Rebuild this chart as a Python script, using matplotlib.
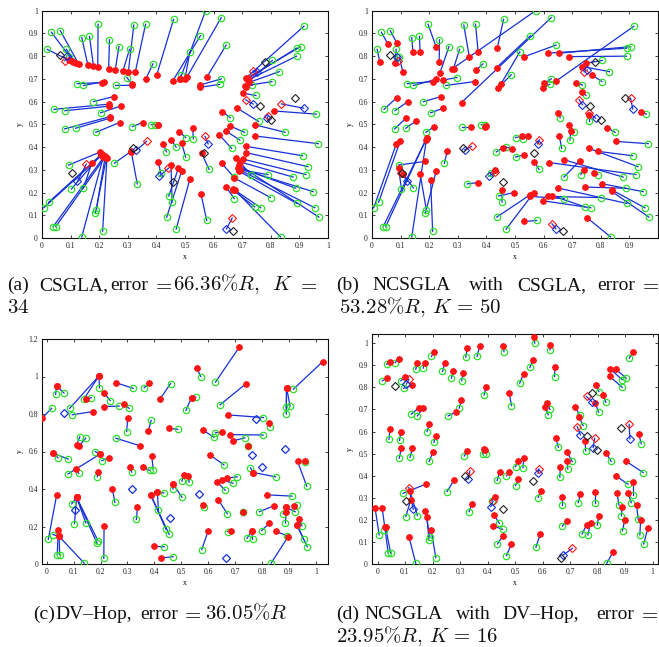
import matplotlib
matplotlib.use("Agg")
import matplotlib.pyplot as plt
import numpy as np

plt.rcParams['font.family'] = ['Liberation Serif', 'DejaVu Serif']
plt.rcParams['mathtext.fontset'] = 'cm'

# ---------------- data ----------------
true_x = [0.572, 0.627, 0.460, 0.916, 0.196, 0.321, 0.362, 0.064, 0.033, 0.139,
          0.166, 0.236, 0.554, 0.644, 0.269, 0.306, 0.018, 0.085, 0.095, 0.517,
          0.890, 0.904, 0.890, 0.805, 0.830, 0.804, 0.748, 0.736, 0.627, 0.621,
          0.487, 0.388, 0.297, 0.123, 0.145, 0.257, 0.180, 0.205, 0.042, 0.080,
          0.079, 0.118, 0.188, 0.316, 0.382, 0.396, 0.502, 0.529, 0.435, 0.469,
          0.502, 0.663, 0.692, 0.708, 0.658, 0.671, 0.584, 0.730, 0.790, 0.757,
          0.850, 0.966, 0.959, 0.911, 0.930, 0.923, 0.878, 0.887, 0.891, 0.948,
          0.954, 0.968, 0.799, 0.765, 0.744, 0.672, 0.576, 0.469, 0.436, 0.443,
          0.455, 0.415, 0.333, 0.253, 0.093, 0.103, 0.145, 0.190, 0.187, 0.212,
          0.139, 0.006, 0.039, 0.048, 0.023, 0.834]
true_y = [1.000, 0.970, 0.962, 0.932, 0.940, 0.937, 0.940, 0.912, 0.905, 0.882,
          0.887, 0.872, 0.890, 0.849, 0.842, 0.830, 0.830, 0.830, 0.796, 0.819,
          0.835, 0.842, 0.800, 0.781, 0.732, 0.688, 0.627, 0.673, 0.700, 0.676,
          0.718, 0.766, 0.706, 0.679, 0.671, 0.671, 0.600, 0.551, 0.566, 0.560,
          0.480, 0.483, 0.465, 0.490, 0.499, 0.499, 0.442, 0.437, 0.379, 0.400,
          0.356, 0.394, 0.431, 0.465, 0.529, 0.268, 0.302, 0.279, 0.279, 0.513,
          0.465, 0.415, 0.545, 0.362, 0.314, 0.279, 0.268, 0.219, 0.152, 0.204,
          0.133, 0.092, 0.178, 0.133, 0.137, 0.173, 0.077, 0.039, 0.092, 0.185,
          0.158, 0.287, 0.238, 0.329, 0.321, 0.216, 0.220, 0.125, 0.110, 0.030,
          0.005, 0.133, 0.050, 0.050, 0.157, 0.005]

# (a) CSGLA estimates
est_a_x = [0.483, 0.506, 0.401, 0.715, 0.195, 0.302, 0.326, 0.128, 0.110, 0.160,
           0.180, 0.233, 0.457, 0.576, 0.256, 0.283, 0.093, 0.118, 0.105, 0.500,
           0.718, 0.720, 0.720, 0.724, 0.725, 0.710, 0.703, 0.712, 0.552, 0.552,
           0.483, 0.363, 0.314, 0.209, 0.217, 0.316, 0.250, 0.276, 0.236, 0.236,
           0.238, 0.238, 0.271, 0.352, 0.407, 0.407, 0.480, 0.527, 0.424, 0.451,
           0.488, 0.620, 0.645, 0.657, 0.631, 0.628, 0.558, 0.680, 0.692, 0.683,
           0.744, 0.744, 0.810, 0.715, 0.713, 0.703, 0.692, 0.690, 0.690, 0.686,
           0.690, 0.690, 0.673, 0.669, 0.669, 0.645, 0.556, 0.517, 0.488, 0.477,
           0.451, 0.407, 0.312, 0.310, 0.203, 0.209, 0.174, 0.221, 0.225, 0.227,
           0.215, 0.209, 0.215, 0.220, 0.205, 0.675]
est_a_y = [0.700, 0.707, 0.717, 0.706, 0.751, 0.732, 0.729, 0.766, 0.776, 0.762,
           0.757, 0.742, 0.691, 0.707, 0.739, 0.735, 0.783, 0.770, 0.780, 0.700,
           0.700, 0.705, 0.695, 0.690, 0.685, 0.670, 0.637, 0.665, 0.673, 0.663,
           0.700, 0.700, 0.678, 0.684, 0.688, 0.672, 0.622, 0.581, 0.589, 0.580,
           0.534, 0.527, 0.508, 0.508, 0.498, 0.495, 0.468, 0.486, 0.414, 0.432,
           0.420, 0.454, 0.469, 0.493, 0.556, 0.329, 0.373, 0.351, 0.300, 0.571,
           0.498, 0.449, 0.559, 0.403, 0.376, 0.347, 0.335, 0.310, 0.293, 0.307,
           0.300, 0.320, 0.264, 0.215, 0.210, 0.223, 0.193, 0.259, 0.293, 0.307,
           0.320, 0.334, 0.381, 0.380, 0.378, 0.370, 0.330, 0.359, 0.352, 0.350,
           0.360, 0.365, 0.355, 0.355, 0.365, 0.210]

# (b) NCSGLA with CSGLA estimates
est_b_x = [0.278, 0.313, 0.438, 0.643, 0.224, 0.340, 0.371, 0.087, 0.056, 0.143,
           0.168, 0.235, 0.436, 0.533, 0.238, 0.285, 0.027, 0.079, 0.108, 0.450,
           0.614, 0.655, 0.689, 0.748, 0.736, 0.770, 0.736, 0.713, 0.603, 0.597,
           0.440, 0.365, 0.249, 0.212, 0.224, 0.359, 0.241, 0.249, 0.087, 0.125,
           0.119, 0.154, 0.218, 0.345, 0.400, 0.395, 0.525, 0.545, 0.458, 0.490,
           0.530, 0.655, 0.695, 0.689, 0.652, 0.727, 0.568, 0.740, 0.776, 0.757,
           0.823, 0.852, 0.942, 0.791, 0.757, 0.620, 0.672, 0.745, 0.650, 0.803,
           0.838, 0.838, 0.614, 0.597, 0.631, 0.553, 0.533, 0.565, 0.553, 0.496,
           0.454, 0.431, 0.371, 0.263, 0.185, 0.093, 0.108, 0.168, 0.224, 0.205,
           0.191, 0.085, 0.188, 0.191, 0.098, 0.753]
est_b_y = [0.742, 0.596, 0.835, 0.690, 0.842, 0.798, 0.820, 0.857, 0.852, 0.820,
           0.820, 0.776, 0.750, 0.798, 0.728, 0.745, 0.776, 0.770, 0.732, 0.676,
           0.813, 0.813, 0.798, 0.769, 0.754, 0.717, 0.644, 0.681, 0.681, 0.660,
           0.660, 0.739, 0.695, 0.688, 0.698, 0.688, 0.622, 0.571, 0.618, 0.600,
           0.527, 0.515, 0.490, 0.490, 0.493, 0.490, 0.447, 0.450, 0.398, 0.392,
           0.366, 0.450, 0.469, 0.498, 0.552, 0.340, 0.334, 0.300, 0.288, 0.542,
           0.486, 0.425, 0.556, 0.381, 0.395, 0.332, 0.344, 0.224, 0.220, 0.239,
           0.212, 0.205, 0.183, 0.164, 0.186, 0.183, 0.073, 0.198, 0.190, 0.200,
           0.212, 0.300, 0.244, 0.381, 0.337, 0.307, 0.283, 0.283, 0.293, 0.256,
           0.439, 0.414, 0.430, 0.440, 0.425, 0.088]

# (c) DV-Hop estimates
est_c_x = [0.557, 0.715, 0.421, 1.025, 0.194, 0.257, 0.380, 0.037, 0.037, 0.194,
           0.146, 0.213, 0.538, 0.739, 0.211, 0.287, -0.016, 0.194, 0.173, 0.538,
           0.891, 0.891, 0.891, 0.675, 0.827, 0.680, 0.746, 0.693, 0.653, 0.580,
           0.454, 0.377, 0.301, 0.111, 0.120, 0.347, 0.198, 0.233, 0.022, 0.022,
           0.198, 0.109, 0.192, 0.309, 0.359, 0.390, 0.511, 0.526, 0.411, 0.470,
           0.470, 0.631, 0.650, 0.668, 0.606, 0.637, 0.582, 0.728, 0.845, 0.767,
           0.767, 0.932, 0.959, 0.817, 0.920, 0.889, 0.889, 0.889, 0.851, 0.938,
           0.929, 0.929, 0.827, 0.761, 0.761, 0.684, 0.600, 0.424, 0.399, 0.386,
           0.386, 0.411, 0.337, 0.244, 0.111, 0.111, 0.111, 0.111, 0.111, 0.213,
           0.046, 0.037, 0.043, 0.046, 0.046, 0.895]
est_c_y = [1.047, 1.156, 0.880, 1.079, 1.003, 0.967, 0.967, 0.950, 0.950, 1.003,
           0.880, 0.911, 0.888, 0.960, 0.840, 0.852, 0.780, 1.003, 0.813, 0.888,
           0.941, 0.941, 0.941, 0.795, 0.754, 0.690, 0.630, 0.657, 0.703, 0.715,
           0.724, 0.710, 0.781, 0.636, 0.630, 0.630, 0.586, 0.568, 0.591, 0.591,
           0.586, 0.506, 0.493, 0.520, 0.515, 0.577, 0.476, 0.467, 0.383, 0.426,
           0.426, 0.440, 0.449, 0.458, 0.582, 0.343, 0.316, 0.275, 0.311, 0.488,
           0.488, 0.547, 0.547, 0.369, 0.311, 0.302, 0.302, 0.280, 0.174, 0.241,
           0.209, 0.209, 0.218, 0.174, 0.174, 0.178, 0.178, 0.032, 0.094, 0.369,
           0.369, 0.383, 0.302, 0.401, 0.355, 0.355, 0.355, 0.355, 0.355, 0.204,
           0.147, 0.369, 0.183, 0.147, 0.147, 0.142]

# (d) NCSGLA with DV-Hop estimates
est_d_x = [0.568, 0.629, 0.457, 0.928, 0.207, 0.326, 0.371, 0.077, 0.045, 0.145,
           0.172, 0.245, 0.565, 0.645, 0.275, 0.312, 0.035, 0.100, 0.127, 0.531,
           0.847, 0.867, 0.844, 0.796, 0.821, 0.792, 0.733, 0.718, 0.618, 0.610,
           0.479, 0.394, 0.305, 0.152, 0.165, 0.284, 0.188, 0.212, 0.045, 0.085,
           0.087, 0.127, 0.202, 0.327, 0.387, 0.392, 0.511, 0.531, 0.444, 0.477,
           0.511, 0.665, 0.690, 0.688, 0.648, 0.671, 0.594, 0.738, 0.790, 0.755,
           0.832, 0.905, 0.950, 0.867, 0.930, 0.911, 0.871, 0.890, 0.899, 0.942,
           0.957, 0.983, 0.805, 0.775, 0.760, 0.689, 0.592, 0.487, 0.456, 0.423,
           0.421, 0.429, 0.344, 0.279, 0.175, 0.121, 0.118, 0.174, 0.180, 0.195,
           0.115, -0.009, 0.017, 0.029, 0.030, 0.857]
est_d_y = [1.026, 0.992, 0.989, 0.962, 0.962, 0.977, 0.985, 0.928, 0.914, 0.909,
           0.909, 0.909, 0.925, 0.894, 0.875, 0.867, 0.842, 0.845, 0.811, 0.861,
           0.882, 0.882, 0.850, 0.811, 0.766, 0.728, 0.665, 0.713, 0.728, 0.710,
           0.774, 0.801, 0.744, 0.709, 0.706, 0.688, 0.633, 0.582, 0.611, 0.600,
           0.525, 0.525, 0.510, 0.514, 0.522, 0.515, 0.465, 0.480, 0.416, 0.416,
           0.386, 0.442, 0.468, 0.510, 0.573, 0.303, 0.333, 0.318, 0.326, 0.558,
           0.502, 0.465, 0.590, 0.400, 0.374, 0.321, 0.321, 0.261, 0.201, 0.268,
           0.201, 0.163, 0.219, 0.189, 0.178, 0.196, 0.137, 0.092, 0.128, 0.224,
           0.174, 0.306, 0.273, 0.382, 0.362, 0.291, 0.330, 0.243, 0.216, 0.155,
           0.122, 0.256, 0.256, 0.170, 0.168, 0.057]

# anchors (black diamonds; blue in panel c)
anchor_x = [0.064, 0.317, 0.457, 0.566, 0.779, 0.762, 0.799, 0.886, 0.667, 0.105]
anchor_y = [0.806, 0.398, 0.248, 0.376, 0.776, 0.582, 0.518, 0.615, 0.030, 0.287]

# blue / red diamonds per panel (a, b, d)
blue_a_x = [0.087, 0.329, 0.410, 0.581, 0.750, 0.738, 0.788, 0.915, 0.645, 0.124]
blue_a_y = [0.800, 0.385, 0.271, 0.414, 0.730, 0.589, 0.527, 0.571, 0.040, 0.249]
red_a_x = [0.080, 0.366, 0.442, 0.570, 0.738, 0.712, 0.790, 0.837, 0.665, 0.155]
red_a_y = [0.780, 0.425, 0.307, 0.447, 0.735, 0.608, 0.535, 0.590, 0.088, 0.325]

blue_b_x = [0.087, 0.324, 0.409, 0.579, 0.753, 0.736, 0.782, 0.912, 0.643, 0.124]
blue_b_y = [0.798, 0.388, 0.271, 0.414, 0.739, 0.586, 0.527, 0.567, 0.040, 0.249]
red_b_x = [0.090, 0.348, 0.430, 0.585, 0.742, 0.724, 0.759, 0.904, 0.629, 0.102]
red_b_y = [0.780, 0.403, 0.290, 0.432, 0.732, 0.608, 0.552, 0.615, 0.063, 0.288]

blue_d_x = [0.105, 0.330, 0.412, 0.584, 0.779, 0.738, 0.784, 0.918, 0.675, 0.130]
blue_d_y = [0.815, 0.386, 0.261, 0.412, 0.736, 0.585, 0.528, 0.567, 0.042, 0.249]
red_d_x = [0.114, 0.336, 0.420, 0.587, 0.760, 0.726, 0.790, 0.915, 0.709, 0.114]
red_d_y = [0.837, 0.422, 0.284, 0.431, 0.759, 0.623, 0.570, 0.633, 0.072, 0.347]

# ---------------- style ----------------
W, H = 659, 647
GREEN = '#2ee02e'
RED = '#ff1515'
BLUE = '#1530d8'

fig = plt.figure(figsize=(W / 100, H / 100), dpi=100)


def box(l, t, r, b):
    return [l / W, 1 - b / H, (r - l) / W, (b - t) / H]


def fmt(v):
    s = ('%.1f' % v)
    if s.endswith('.0'):
        s = s[:-2]
    return s


def panel(rect, xlim, ylim, xt, yt, ex, ey, blue=None, red=None, anchors_blue=False):
    ax = fig.add_axes(box(*rect))
    for tx, ty, px, py in zip(true_x, true_y, ex, ey):
        ax.plot([tx, px], [ty, py], '-', color=BLUE, lw=0.9, zorder=2)
    if blue is not None and red is not None:
        for bx, by, rx, ry in zip(blue[0], blue[1], red[0], red[1]):
            ax.plot([bx, rx], [by, ry], '-', color=BLUE, lw=0.9, zorder=2)
    ax.plot(true_x, true_y, 'o', mfc='none', mec=GREEN, ms=4.6, mew=0.9, zorder=3)
    ax.plot(ex, ey, marker=(8, 2, 0), ls='none', color=RED, ms=4.6, mew=1.3, zorder=4)
    if anchors_blue:
        ax.plot(anchor_x, anchor_y, 'D', mfc='none', mec=BLUE, ms=4.2, mew=0.9, zorder=5)
    else:
        if red is not None:
            ax.plot(red[0], red[1], 'D', mfc='none', mec=RED, ms=4.2, mew=0.8, zorder=5)
        if blue is not None:
            ax.plot(blue[0], blue[1], 'D', mfc='none', mec=BLUE, ms=4.2, mew=0.8, zorder=5)
        ax.plot(anchor_x, anchor_y, 'D', mfc='none', mec='#202020', ms=4.2, mew=0.8, zorder=5)
    ax.set_xlim(*xlim)
    ax.set_ylim(*ylim)
    ax.set_xticks(xt)
    ax.set_xticklabels([fmt(v) for v in xt])
    ax.set_yticks(yt)
    ax.set_yticklabels([fmt(v) for v in yt])
    ax.tick_params(direction='in', length=2.5, width=0.6, labelsize=5.5,
                   top=True, right=True, pad=3, colors='#222222')
    for s in ax.spines.values():
        s.set_linewidth(0.8)
        s.set_color('#111111')
    ax.set_xlabel('x', fontsize=5.5, labelpad=2)
    ax.set_ylabel('y', fontsize=5.5, labelpad=3)
    return ax


t01 = [round(0.1 * i, 1) for i in range(11)]
t09 = [round(0.1 * i, 1) for i in range(10)]

panel((42, 10.7, 328, 238), (0, 1), (0, 1), t01, t01, est_a_x, est_a_y,
      blue=(blue_a_x, blue_a_y), red=(red_a_x, red_a_y))
panel((372, 10.7, 658, 238), (0, 1.0), (0, 1), t09, t01, est_b_x, est_b_y,
      blue=(blue_b_x, blue_b_y), red=(red_b_x, red_b_y))
panel((42.3, 339, 328, 564), (-0.0165, 1.045), (0, 1.2), t01,
      [0, 0.2, 0.4, 0.6, 0.8, 1.0, 1.2], est_c_x, est_c_y, anchors_blue=True)
panel((372, 334.3, 658, 564.3), (-0.02, 1.02), (0, 1.04), t01, t01, est_d_x, est_d_y,
      blue=(blue_d_x, blue_d_y), red=(red_d_x, red_d_y))

# ---------------- captions ----------------
FS = 14.0
FM = 15.0


def put(x, y, s, fs=FS):
    fig.text(x / W, 1 - y / H, s, fontsize=fs, ha='left', va='baseline', color='#111111')


# (a)
for x, s in [(7, '(a)'), (39, 'CSGLA,'), (110, 'error')]:
    put(x, 290, s)
for x, s in [(152, r'$=$'), (173, r'$66.36\%R,$'), (272, r'$K$'), (297, r'$=$')]:
    put(x, 290, s, FM)
put(7, 313, r'$34$', FM)

# (b)
for x, s in [(336, '(b)'), (372, 'NCSGLA'), (469, 'with'), (517, 'CSGLA,'), (597, 'error')]:
    put(x, 290, s)
put(639, 290, r'$=$', FM)
put(339, 313, r'$53.28\%R,\,K\,=\,50$', FM)

# (c)
for x, s in [(33, '(c)'), (55, 'DV–Hop,'), (140, 'error')]:
    put(x, 619, s)
put(181, 619, r'$=$', FM)
put(205, 619, r'$36.05\%R$', FM)

# (d)
for x, s in [(336, '(d)'), (364, 'NCSGLA'), (456, 'with'), (502, 'DV–Hop,'), (596, 'error')]:
    put(x, 619, s)
put(638, 619, r'$=$', FM)
put(336, 642, r'$23.95\%R,\,K\,=\,16$', FM)

fig.savefig('out.png', dpi=100)
